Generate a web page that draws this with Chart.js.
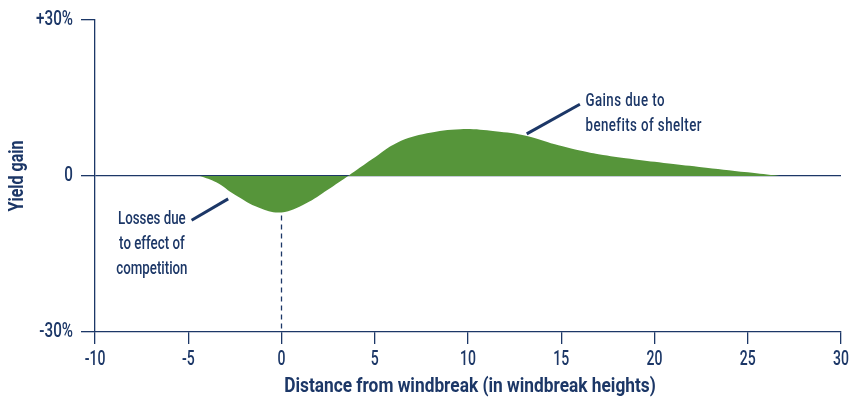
<!DOCTYPE html>
<html>
<head>
<meta charset="utf-8">
<script src="https://cdn.jsdelivr.net/npm/chart.js@4"></script>
<style>
  html, body { margin: 0; padding: 0; background: #fff; }
  #wrap { width: 852px; height: 400px; }
</style>
</head>
<body>
<div id="wrap"><canvas id="canvas"></canvas></div>
<script>
// yield gain curve
const distance = [-4.37, -3.5, -2.5, -1.2, 0, 1.3, 2.5, 3.57, 4.85, 6.2, 7.8, 9.6, 11.45, 13.16, 14.66, 16.0, 17.0, 18.7, 20.5, 22.4, 25.0, 26.7];
const yieldGain = [0, -1.2, -3.6, -6.1, -7.0, -5.3, -2.6, 0, 3.2, 6.4, 8.2, 9.0, 8.6, 7.7, 6.1, 4.9, 4.2, 3.3, 2.5, 1.75, 0.7, 0];

const xTicks = [-10, -5, 0, 5, 10, 15, 20, 25, 30];
const yTicks = [30, 0, -30];
const yTickLabels = ['+30%', '0', '-30%'];

// callout lines and labels (data units)
const lossLine = [{ x: -4.82, y: -8.5 }, { x: -2.86, y: -4.4 }];
const gainLine = [{ x: 13.15, y: 8.1 }, { x: 16.0, y: 13.8 }];
const dropLine = [{ x: 0, y: -7.6 }, { x: 0, y: -30 }];
const lossText = ['Losses due', 'to effect of', 'competition'];
const gainText = ['Gains due to', 'benefits of shelter'];
const xTitle = 'Distance from windbreak (in windbreak heights)';
const yTitle = 'Yield gain';

const navy = '#1c3767';
const green = '#56953a';
const FONT = 'Roboto, "DejaVu Sans", sans-serif';
const SQUEEZE = 0.7;   // the reference face is a narrow condensed one

function narrowText(ctx, text, x, y, align, squeeze) {
  ctx.save();
  ctx.translate(x, y);
  ctx.scale(squeeze, 1);
  ctx.textAlign = align;
  ctx.fillText(text, 0, 0);
  ctx.restore();
}

const textPlugin = {
  id: 'texts',
  afterDraw(chart) {
    const ctx = chart.ctx;
    const x = chart.scales.x, y = chart.scales.y;
    const a = chart.chartArea;
    ctx.save();
    ctx.fillStyle = navy;
    ctx.textBaseline = 'middle';
    ctx.font = '500 20px ' + FONT;
    // tick labels
    xTicks.forEach(v => narrowText(ctx, String(v), x.getPixelForValue(v), a.bottom + 28, 'center', SQUEEZE));
    yTicks.forEach((v, i) => narrowText(ctx, yTickLabels[i], a.left - 22, y.getPixelForValue(v), 'right', 0.76));
    // callouts
    ctx.font = '500 19px ' + FONT;
    const lx = x.getPixelForValue(-6.95);
    lossText.forEach((t, i) => narrowText(ctx, t, lx, y.getPixelForValue(-8.4) + i * 25, 'center', SQUEEZE));
    const gx = x.getPixelForValue(16.3);
    ctx.letterSpacing = '0.6px';
    gainText.forEach((t, i) => narrowText(ctx, t, gx, y.getPixelForValue(14.4) + i * 25, 'left', SQUEEZE));
    ctx.letterSpacing = '0px';
    // axis titles
    ctx.font = 'bold 20px ' + FONT;
    narrowText(ctx, xTitle, (a.left + a.right) / 2 + 2, 387, 'center', 0.865);
    ctx.translate(18, y.getPixelForValue(0));
    ctx.rotate(-Math.PI / 2);
    narrowText(ctx, yTitle, 0, 0, 'center', 0.8);
    ctx.restore();
  }
};

new Chart(document.getElementById('canvas'), {
  type: 'line',
  data: {
    datasets: [
      {
        data: distance.map((d, i) => ({ x: d, y: yieldGain[i] })),
        fill: 'origin',
        backgroundColor: green,
        borderWidth: 0,
        pointRadius: 0,
        tension: 0.4
      },
      {
        data: dropLine,
        borderColor: navy,
        borderWidth: 1.3,
        borderDash: [5, 4],
        pointRadius: 0,
        fill: false
      },
      {
        data: lossLine,
        borderColor: navy,
        borderWidth: 3,
        pointRadius: 0,
        fill: false
      },
      {
        data: gainLine,
        borderColor: navy,
        borderWidth: 3,
        pointRadius: 0,
        fill: false
      }
    ]
  },
  options: {
    responsive: true,
    maintainAspectRatio: false,
    animation: false,
    layout: { padding: { top: 20, right: 11, left: 0, bottom: 0 } },
    plugins: { legend: { display: false }, tooltip: { enabled: false } },
    scales: {
      x: {
        type: 'linear',
        min: -10,
        max: 30,
        afterFit: (s) => { s.height = 68; s.paddingLeft = 0; s.paddingRight = 0; },
        afterBuildTicks: (s) => { s.ticks = xTicks.map(v => ({ value: v })); },
        border: { color: navy, width: 1.3 },
        grid: { drawOnChartArea: false, tickLength: 12, tickColor: navy, lineWidth: 1.3 },
        ticks: { display: false }
      },
      y: {
        min: -30,
        max: 30,
        z: 1,
        afterFit: (s) => { s.width = 95; s.paddingTop = 0; s.paddingBottom = 0; },
        afterBuildTicks: (s) => { s.ticks = yTicks.map(v => ({ value: v })); },
        border: { color: navy, width: 1.3 },
        grid: {
          color: (c) => c.tick && c.tick.value === 0 ? navy : 'rgba(0,0,0,0)',
          tickColor: navy,
          tickLength: 14,
          lineWidth: 1.3
        },
        ticks: { display: false }
      }
    }
  },
  plugins: [textPlugin]
});
</script>
</body>
</html>
